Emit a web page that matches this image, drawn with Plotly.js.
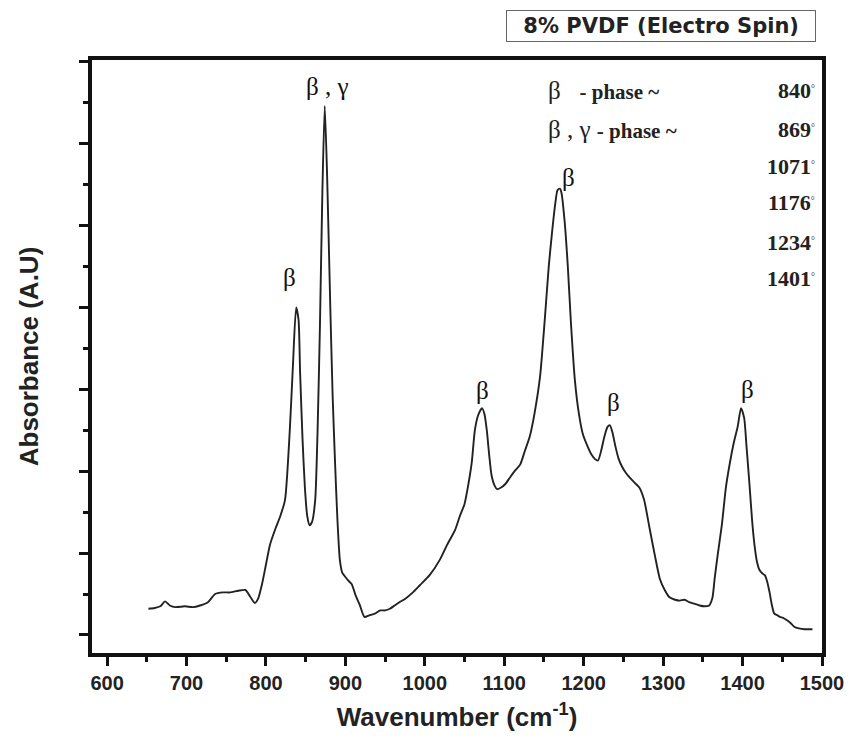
<!DOCTYPE html>
<html>
<head>
<meta charset="utf-8">
<script src="https://cdn.plot.ly/plotly-3.0.1.min.js"></script>
<style>html,body{margin:0;padding:0;background:#fff;}#chart{width:855px;height:751px;}</style>
</head>
<body>
<div id="chart"></div>
<script>
// Spectrum (wavenumber, absorbance in arbitrary units)
const wavenumber = [652,660,667,673,679,686,698,708,717,727,736,746,755,765,774,780,786,790,795,800,805,812,818,824,830,834,838,841,843,846,849,852,855,858,862,865,868,871,874,877,881,884,887,890,893,896,899,904,908,913,918,924,930,937,944,950,956,962,968,975,985,994,1006,1019,1028,1038,1044,1050,1055,1059,1063,1067,1072,1075,1078,1081,1084,1088,1091,1096,1101,1107,1113,1120,1126,1132,1138,1145,1151,1156,1160,1164,1167,1170,1172,1176,1180,1184,1189,1194,1199,1205,1210,1214,1218,1222,1226,1230,1233,1236,1240,1244,1248,1253,1258,1264,1270,1276,1283,1290,1296,1302,1308,1315,1321,1327,1333,1340,1346,1352,1358,1362,1365,1369,1374,1379,1384,1389,1394,1398,1402,1405,1409,1412,1415,1418,1421,1425,1428,1431,1434,1437,1440,1444,1447,1451,1456,1460,1465,1471,1478,1488,1500];
const absorbance = [0.32,0.33,0.35,0.41,0.36,0.34,0.35,0.34,0.36,0.40,0.50,0.52,0.52,0.54,0.55,0.47,0.39,0.44,0.62,0.86,1.10,1.30,1.45,1.65,2.50,3.30,4.00,3.85,3.20,2.40,1.80,1.45,1.34,1.38,1.65,2.50,3.80,5.40,6.46,5.60,4.00,2.90,2.10,1.40,0.92,0.76,0.72,0.66,0.62,0.48,0.37,0.22,0.24,0.26,0.30,0.30,0.32,0.36,0.40,0.44,0.52,0.61,0.73,0.92,1.10,1.28,1.45,1.60,1.85,2.10,2.50,2.68,2.77,2.70,2.50,2.20,1.95,1.82,1.78,1.80,1.84,1.92,2.00,2.08,2.25,2.42,2.70,3.15,3.85,4.50,4.90,5.25,5.43,5.45,5.40,5.05,4.50,3.80,3.10,2.70,2.45,2.30,2.20,2.15,2.13,2.25,2.42,2.54,2.56,2.48,2.30,2.15,2.06,1.98,1.92,1.86,1.80,1.65,1.30,0.95,0.68,0.55,0.46,0.43,0.42,0.43,0.40,0.38,0.36,0.35,0.36,0.45,0.70,1.00,1.35,1.80,2.10,2.35,2.55,2.77,2.65,2.30,1.80,1.40,1.10,0.90,0.80,0.75,0.73,0.65,0.52,0.36,0.26,0.24,0.22,0.21,0.18,0.15,0.10,0.08,0.07,0.07];

const peakLabelText = ["β","β , γ","β","β","β","β"];
const peakLabelX = [829,878,1072,1181,1238,1406];
const peakLabelY = [4.36,6.70,2.98,5.58,2.84,3.00];

const phaseHeads = ["β&nbsp;&nbsp;&nbsp;", "β , γ "];
const phaseText = "- phase ~";
const phaseValues = ["840","869","1071","1176","1234","1401"];

const xTickValues = [600,700,800,900,1000,1100,1200,1300,1400,1500];
const xTickLabels = ["600","700","800","900","1000","1100","1200","1300","1400","1500"];

const serif = "Liberation Serif, Times New Roman, serif";
const sans = "Liberation Sans, Arial, sans-serif";

const annotations = [];
for (let i = 0; i < peakLabelText.length; i++) {
  annotations.push({x: peakLabelX[i], y: peakLabelY[i], xref: "x", yref: "y",
    text: peakLabelText[i], showarrow: false,
    font: {family: serif, size: 25, color: "#111"}});
}
// right-hand notes
const rowY = [0.949, 0.882, 0.820, 0.759, 0.693, 0.632];
for (let i = 0; i < phaseHeads.length; i++) {
  annotations.push({x: 0.622, y: rowY[i], xref: "paper", yref: "paper",
    xanchor: "left", yanchor: "middle",
    text: '<span style="font-size:25px">' + phaseHeads[i] + '</span><b>' + phaseText + '</b>', showarrow: false,
    font: {family: serif, size: 21, color: "#222"}});
}
for (let i = 0; i < phaseValues.length; i++) {
  annotations.push({x: 0.993, y: rowY[i], xref: "paper", yref: "paper",
    xanchor: "right", yanchor: "middle",
    text: "<b>" + phaseValues[i] + "</b><span style='font-size:14px'><sup>°</sup></span>", showarrow: false,
    font: {family: serif, size: 22, color: "#222"}});
}
// boxed title
annotations.push({x: 0.779, y: 1.057, xref: "paper", yref: "paper",
  xanchor: "center", yanchor: "middle", text: "&nbsp;&nbsp;<b>8% PVDF (Electro Spin)</b>&nbsp;&nbsp;",
  showarrow: false, bordercolor: "#666", borderwidth: 1, borderpad: 3,
  bgcolor: "#fff", font: {family: "DejaVu Sans, sans-serif", size: 21, color: "#222"}});

const trace = {
  x: wavenumber, y: absorbance, type: "scatter", mode: "lines",
  line: {color: "#222", width: 1.9, shape: "spline", smoothing: 0.6},
  hoverinfo: "skip"
};

const layout = {
  width: 855, height: 751,
  margin: {l: 92, r: 33, t: 60, b: 98},
  paper_bgcolor: "#fff", plot_bgcolor: "#fff",
  showlegend: false,
  xaxis: {
    range: [581, 1500], tickmode: "array", tickvals: xTickValues,
    ticktext: xTickLabels.map(t => "<b>" + t + "</b>"),
    ticks: "outside", ticklen: 9, tickwidth: 3, tickcolor: "#111",
    showline: true, linewidth: 4, linecolor: "#111", mirror: true,
    showgrid: false, zeroline: false,
    minor: {dtick: 50, tick0: 0, ticks: "outside", ticklen: 5, tickwidth: 3, tickcolor: "#111", showgrid: false},
    tickfont: {family: sans, size: 20, color: "#222"},
    title: {text: "<b>Wavenumber (cm<sup>-1</sup>)</b>", font: {family: sans, size: 26, color: "#222"}, standoff: 16}
  },
  yaxis: {
    range: [-0.22, 7.02], dtick: 1, tick0: 0,
    ticks: "outside", ticklen: 9, tickwidth: 3, tickcolor: "#111",
    showticklabels: false,
    showline: true, linewidth: 4, linecolor: "#111", mirror: true,
    showgrid: false, zeroline: false,
    minor: {dtick: 0.5, ticks: "outside", ticklen: 5, tickwidth: 3, tickcolor: "#111", showgrid: false},
    title: {text: "<b>Absorbance (A.U)</b>", font: {family: sans, size: 26, color: "#222"}, standoff: 34}
  },
  annotations: annotations
};

Plotly.newPlot("chart", [trace], layout, {displayModeBar: false, staticPlot: true});
</script>
</body>
</html>
